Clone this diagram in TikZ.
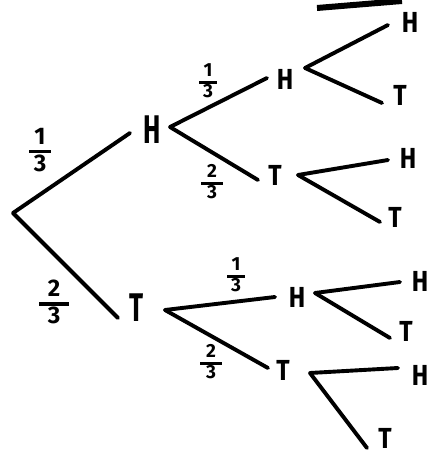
\documentclass[tikz,border=0pt]{standalone}
\usepackage{fontspec}
\setmainfont{Fira Sans}
\usepackage{graphicx}
\newcommand\sxb[1]{\scalebox{0.65}[1]{#1}}
\newcommand\sxs[1]{\scalebox{0.85}[1]{#1}}
\newcommand\bigfr[3]{#1\\[-12pt]\rule{#3}{3.2pt}\\[-3pt]#2}
\newcommand\smfr[3]{#1\\[-10pt]\rule{#3}{3pt}\\[-3pt]#2}
\begin{document}
\begin{tikzpicture}[x=1pt,y=1pt,
  br/.style={line width=3.9pt,line cap=round},
  big/.style={inner sep=0pt,font=\fontsize{40}{40}\selectfont\bfseries},
  sm/.style={inner sep=0pt,font=\fontsize{29}{29}\selectfont\bfseries},
  fr/.style={inner sep=0pt,align=center,font=\fontsize{24}{21}\selectfont\bfseries},
  frs/.style={inner sep=0pt,align=center,font=\fontsize{19}{17}\selectfont\bfseries}]
\useasboundingbox (0,0) rectangle (429,455);
% top smudge
\coordinate (s1) at (317,447);
\coordinate (s2) at (402,454);
\draw[line width=6pt] (s1) -- (s2);
% root and level 1
\coordinate (root) at (13,242);
\node[big] (H1) at (152,325) {\sxb{H}};
\node[big] (T1) at (137,147) {\sxb{T}};
\draw[br] (root) -- ([xshift=-22pt,yshift=-3pt]H1.center);
\draw[br] (root) -- ([xshift=-19pt,yshift=-10pt]T1.center);
\node[fr] (f1) at (40,305) {\bigfr{1}{3}{22pt}};
\node[fr] (f2) at (54,153) {\bigfr{2}{3}{30pt}};
% level 2
\node[sm] (H2) at (285,376) {\sxs{H}};
\node[sm] (T2) at (275,280) {\sxs{T}};
\node[sm] (H3) at (297,158) {\sxs{H}};
\node[sm] (T3) at (283,85) {\sxs{T}};
\draw[br] ([xshift=18pt,yshift=3pt]H1.center) -- ([xshift=-18pt,yshift=1pt]H2.center);
\draw[br] ([xshift=18pt,yshift=3pt]H1.center) -- ([xshift=-17pt,yshift=-5pt]T2.center);
\draw[br] ([xshift=28pt,yshift=-2pt]T1.center) -- ([xshift=-22pt,yshift=0pt]H3.center);
\draw[br] ([xshift=28pt,yshift=-2pt]T1.center) -- ([xshift=-15pt,yshift=2pt]T3.center);
\node[frs] (f3) at (208,374) {\smfr{1}{3}{18pt}};
\node[frs] (f4) at (212,273) {\smfr{2}{3}{22pt}};
\node[frs] (f5) at (236,180) {\smfr{1}{3}{18pt}};
\node[frs] (f6) at (211,93) {\smfr{2}{3}{22pt}};
% level 3
\node[sm] (HH) at (410,433) {\sxs{H}};
\node[sm] (HT) at (400,360) {\sxs{T}};
\node[sm] (TH) at (408,297) {\sxs{H}};
\node[sm] (TT) at (395,238) {\sxs{T}};
\node[sm] (H3H) at (420,174) {\sxs{H}};
\node[sm] (H3T) at (406,124) {\sxs{T}};
\node[sm] (T3H) at (420,80) {\sxs{H}};
\node[sm] (T3T) at (385,17) {\sxs{T}};
\draw[br] ([xshift=20pt,yshift=11pt]H2.center) -- ([xshift=-22pt,yshift=-3pt]HH.center);
\draw[br] ([xshift=20pt,yshift=11pt]H2.center) -- ([xshift=-18pt,yshift=-8pt]HT.center);
\draw[br] ([xshift=23pt,yshift=0pt]T2.center) -- ([xshift=-20pt,yshift=-2pt]TH.center);
\draw[br] ([xshift=23pt,yshift=0pt]T2.center) -- ([xshift=-15pt,yshift=-5pt]TT.center);
\draw[br] ([xshift=18pt,yshift=4pt]H3.center) -- ([xshift=-20pt,yshift=-1pt]H3H.center);
\draw[br] ([xshift=18pt,yshift=4pt]H3.center) -- ([xshift=-16pt,yshift=-7pt]H3T.center);
\draw[br] ([xshift=27pt,yshift=-3pt]T3.center) -- ([xshift=-22pt,yshift=7pt]T3H.center);
\draw[br] ([xshift=27pt,yshift=-3pt]T3.center) -- ([xshift=-18pt,yshift=-10pt]T3T.center);
\end{tikzpicture}
\end{document}
